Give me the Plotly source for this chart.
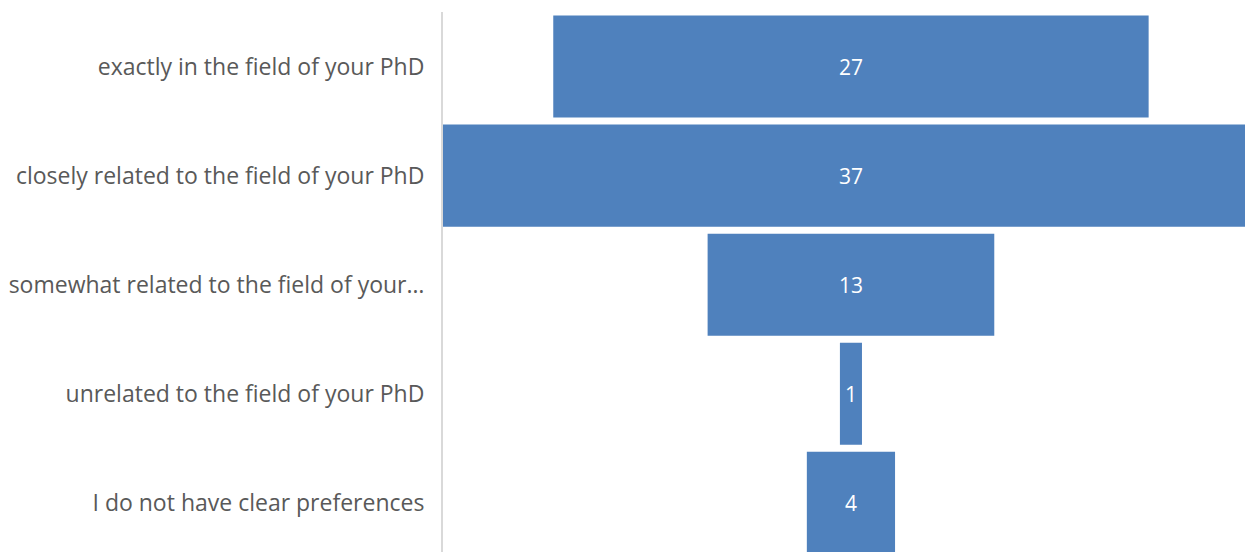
import plotly.graph_objects as go

categories = [
    "exactly in the field of your PhD",
    "closely related to the field of your PhD",
    "somewhat related to the field of your…",
    "unrelated to the field of your PhD",
    "I do not have clear preferences",
]
values = [27, 37, 13, 1, 4]

fig = go.Figure(go.Funnel(
    y=categories,
    x=values,
    textinfo="value",
    textposition="inside",
    insidetextfont=dict(color="white", size=21, family="Open Sans"),
    marker=dict(color="#4f81bd"),
    connector=dict(visible=False),
    cliponaxis=True,
))

fig.update_layout(
    width=1245, height=552,
    margin=dict(l=443, r=0, t=12, b=0),
    paper_bgcolor="white", plot_bgcolor="white",
    funnelgap=0.064,
    showlegend=False,
    font=dict(family="Open Sans", size=23, color="#595959"),
    xaxis=dict(visible=False, range=[-18.5, 17.87]),
    yaxis=dict(
        range=[4.45, -0.5],
        showline=True, linecolor="#d9d9d9", linewidth=2,
        showgrid=False, zeroline=False, ticks="",
        ticklabelstandoff=12,
        tickfont=dict(family="Open Sans", size=23, color="#595959"),
    ),
)

fig.write_html(
    "out.html",
    config={"displayModeBar": False},
    post_script="document.body.style.margin='0';document.body.style.overflow='hidden';",
)
